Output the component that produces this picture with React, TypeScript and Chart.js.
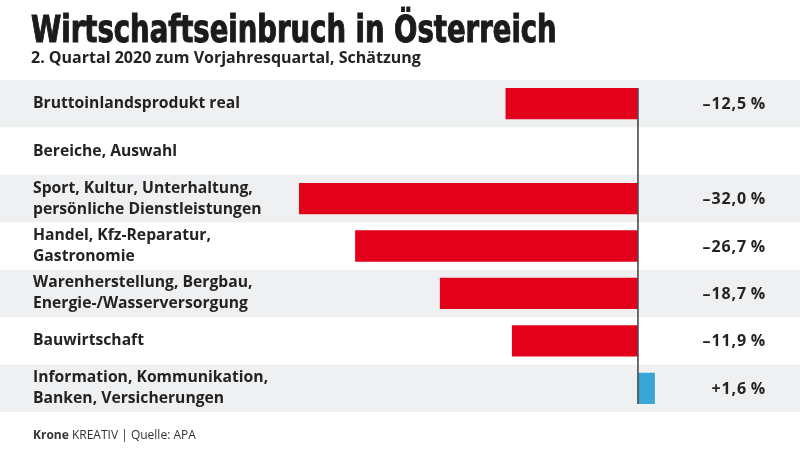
import React, { useEffect, useRef } from "react";
import { Chart, registerables } from "chart.js";

Chart.register(...registerables);

const categories: (string | string[])[] = [
  "Bruttoinlandsprodukt real",
  "Bereiche, Auswahl",
  ["Sport, Kultur, Unterhaltung,", "persönliche Dienstleistungen"],
  ["Handel, Kfz-Reparatur,", "Gastronomie"],
  ["Warenherstellung, Bergbau,", "Energie-/Wasserversorgung"],
  "Bauwirtschaft",
  ["Information, Kommunikation,", "Banken, Versicherungen"],
];
const values: (number | null)[] = [-12.5, null, -32.0, -26.7, -18.7, -11.9, 1.6];

const TITLE = "Wirtschaftseinbruch in Österreich";
const SUBTITLE = "2. Quartal 2020 zum Vorjahresquartal, Schätzung";

const RED = "#e2001a";
const BLUE = "#3aa6d8";
const BAND = "#eff0f2";
const TEXT = "#232323";
const FONT = '"Open Sans", "Noto Sans", sans-serif';

function fmt(v: number): string {
  const sign = v < 0 ? "\u2013" : "+";
  return sign + Math.abs(v).toFixed(1).replace(".", ",") + "\u2009%";
}

const bandsPlugin = {
  id: "bands",
  beforeDraw(chart: any) {
    const { ctx } = chart;
    const y = chart.scales.y;
    const n = categories.length;
    const step = (y.bottom - y.top) / n;
    ctx.save();
    ctx.fillStyle = BAND;
    for (let i = 0; i < n; i += 2) {
      const c = y.getPixelForValue(i);
      ctx.fillRect(0, c - step / 2, chart.width, step);
    }
    ctx.restore();
  },
};

const zeroLinePlugin = {
  id: "zeroLine",
  afterDatasetsDraw(chart: any) {
    const { ctx } = chart;
    const x = chart.scales.x.getPixelForValue(0);
    const meta = chart.getDatasetMeta(0);
    const first = meta.data[0];
    const last = meta.data[meta.data.length - 1];
    const top = first.y - first.height / 2;
    const bottom = last.y + last.height / 2;
    ctx.save();
    ctx.strokeStyle = "#4a4a4a";
    ctx.lineWidth = 1.6;
    ctx.beginPath();
    ctx.moveTo(x, top);
    ctx.lineTo(x, bottom);
    ctx.stroke();
    ctx.restore();
  },
};

const valueLabelPlugin = {
  id: "valueLabels",
  afterDraw(chart: any) {
    const { ctx } = chart;
    const y = chart.scales.y;
    ctx.save();
    ctx.font = `700 16px ${FONT}`;
    (ctx as any).letterSpacing = "0.9px";
    ctx.fillStyle = TEXT;
    ctx.textAlign = "right";
    ctx.textBaseline = "middle";
    values.forEach((v, i) => {
      if (v === null) return;
      ctx.fillText(fmt(v), 766, y.getPixelForValue(i) + 1);
    });
    ctx.restore();
  },
};

export default function App() {
  const ref = useRef<HTMLCanvasElement>(null);
  const titleRef = useRef<HTMLDivElement>(null);

  useEffect(() => {
    const t = titleRef.current;
    if (t) {
      const w = t.scrollWidth;
      if (w > 0) t.style.transform = `scaleX(${526 / w})`;
    }
    if (!ref.current) return;
    const chart = new Chart(ref.current, {
      type: "bar",
      data: {
        labels: categories as any,
        datasets: [
          {
            data: values as any,
            backgroundColor: values.map((v) => (v !== null && v >= 0 ? BLUE : RED)),
            borderWidth: 0,
            barPercentage: 0.66,
            categoryPercentage: 1,
          },
        ],
      },
      options: {
        indexAxis: "y",
        responsive: false,
        animation: false,
        layout: { padding: { left: 33, right: 98.5, top: 80, bottom: 40 } },
        plugins: {
          legend: { display: false },
          tooltip: { enabled: false },
        },
        scales: {
          x: {
            display: false,
            min: -32,
            max: 6,
          },
          y: {
            position: "left",
            grid: { display: false },
            border: { display: false },
            afterFit(scale: any) {
              scale.width = 266;
            },
            ticks: {
              crossAlign: "far",
              padding: 0,
              color: TEXT,
              font: { family: FONT, size: 15.7, weight: "bold", lineHeight: 1.34 },
            },
          },
        },
      },
      plugins: [bandsPlugin, zeroLinePlugin, valueLabelPlugin],
    });
    return () => chart.destroy();
  }, []);

  return (
    <div
      style={{
        position: "fixed",
        left: 0,
        top: 0,
        width: 800,
        height: 452,
        background: "#ffffff",
        overflow: "hidden",
      }}
    >
      <canvas ref={ref} width={800} height={452} style={{ position: "absolute", left: 0, top: 0, width: 800, height: 452 }} />
      <div
        ref={titleRef}
        style={{
          position: "absolute",
          left: 31,
          top: 11,
          fontFamily: '"DejaVu Sans Condensed", "DejaVu Sans", sans-serif',
          fontWeight: 700,
          fontSize: 37,
          lineHeight: "37px",
          color: "#1b1b1b",
          WebkitTextStroke: "1px #1b1b1b",
          whiteSpace: "nowrap",
          transformOrigin: "0 0",
          display: "inline-block",
        }}
      >
        {TITLE}
      </div>
      <div
        style={{
          position: "absolute",
          left: 31,
          top: 49,
          fontFamily: FONT,
          fontWeight: 700,
          fontSize: 16,
          lineHeight: "16px",
          color: TEXT,
          whiteSpace: "nowrap",
        }}
      >
        {SUBTITLE}
      </div>
      <div
        style={{
          position: "absolute",
          left: 33,
          top: 428,
          fontFamily: FONT,
          fontSize: 12,
          lineHeight: "13px",
          color: "#333",
          whiteSpace: "nowrap",
        }}
      >
        <span style={{ fontWeight: 700 }}>Krone</span> KREATIV | Quelle: APA
      </div>
    </div>
  );
}
